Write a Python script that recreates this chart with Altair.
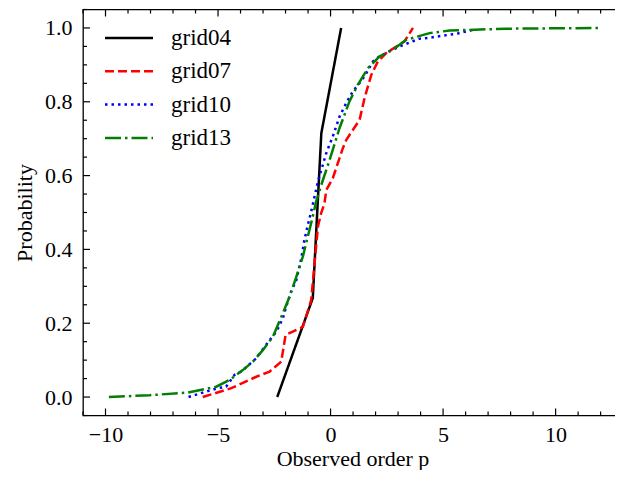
import altair as alt
import pandas as pd

series_names = ["grid04", "grid07", "grid10", "grid13"]
series_colors = ["#000000", "#ff0000", "#0000ff", "#008000"]
series_dashes = [[1, 0], [9, 4], [2.5, 4], [16, 4, 2.5, 4]]

grid04_p = [-2.37, -0.79, -0.41, 0.47]
grid04_prob = [0.0, 0.268, 0.715, 1.0]

grid07_p = [-5.68, -4.41, -3.30, -2.71, -2.19, -2.0, -1.23, -0.86, -0.71, -0.56,
            -0.41, -0.27, -0.19, 0.10, 0.55, 0.70, 1.29, 1.51, 1.81, 2.10,
            2.47, 3.29, 3.66]
grid07_prob = [0.0, 0.024, 0.055, 0.069, 0.096, 0.168, 0.19, 0.263, 0.363, 0.462,
               0.50, 0.525, 0.561, 0.593, 0.675, 0.697, 0.751, 0.81, 0.873, 0.909,
               0.932, 0.964, 1.0]

grid10_p = [-6.31, -5.68, -5.01, -4.64, -4.27, -3.97, -3.67, -3.30, -2.93, -2.64,
            -2.41, -2.12, -1.97, -1.75, -1.52, -1.30, -1.16, -1.01, -0.86, -0.56,
            -0.19, 0.10, 0.40, 0.70, 0.99, 1.29, 1.51, 1.88, 2.18, 2.62,
            3.07, 3.66, 3.96, 4.32, 5.66, 6.32]
grid10_prob = [0.0, 0.012, 0.024, 0.028, 0.06, 0.069, 0.085, 0.105, 0.136, 0.159,
               0.177, 0.213, 0.245, 0.286, 0.317, 0.376, 0.426, 0.466, 0.503, 0.584,
               0.661, 0.706, 0.76, 0.797, 0.828, 0.851, 0.869, 0.909, 0.923, 0.937,
               0.95, 0.964, 0.971, 0.973, 0.985, 0.995]

grid13_p = [-9.85, -8.04, -6.34, -5.08, -4.49, -3.90, -3.45, -3.01, -2.56, -2.12,
            -1.82, -1.52, -1.23, -1.01, -0.79, -0.64, -0.41, -0.04, 0.40, 0.84,
            1.21, 1.66, 2.18, 2.77, 3.36, 4.4, 5.29, 7.81, 11.96]
grid13_prob = [0.0, 0.005, 0.012, 0.028, 0.046, 0.073, 0.096, 0.127, 0.164, 0.227,
               0.272, 0.326, 0.381, 0.435, 0.489, 0.53, 0.575, 0.643, 0.729, 0.801,
               0.846, 0.891, 0.923, 0.941, 0.968, 0.986, 0.993, 0.998, 1.0]

x_major = [-10, -5, 0, 5, 10]
x_minor = [v for v in range(-11, 13) if v % 5 != 0]
y_major = [0.0, 0.2, 0.4, 0.6, 0.8, 1.0]
y_minor = [round(-0.05 + 0.05 * k, 2) for k in range(23)]
y_minor = [v for v in y_minor if round(v * 100) % 20 != 0]

series_p = [grid04_p, grid07_p, grid10_p, grid13_p]
series_prob = [grid04_prob, grid07_prob, grid10_prob, grid13_prob]

W, H = 539, 406
FONT = "Liberation Serif"
FS = 22

xs = alt.Scale(domain=[-11.0, 12.95], nice=False, zero=False)
ys = alt.Scale(domain=[-0.05, 1.05], nice=False, zero=False)

x_axis = alt.Axis(values=x_major, format="d", ticks=False, domain=False, grid=False,
                  labelFont=FONT, labelFontSize=FS, labelColor="black", labelPadding=9,
                  labelFlush=False, labelOverlap=False,
                  title="Observed order p", titleFont=FONT, titleFontSize=FS,
                  titleFontWeight="normal", titleColor="black", titlePadding=3)
y_axis = alt.Axis(values=y_major, format=".1f", ticks=False, domain=False, grid=False,
                  labelFont=FONT, labelFontSize=FS, labelColor="black", labelPadding=11,
                  labelFlush=False, labelOverlap=False,
                  title="Probability", titleFont=FONT, titleFontSize=FS,
                  titleFontWeight="normal", titleColor="black", titlePadding=8)

X = alt.X("p:Q", scale=xs, axis=x_axis)
Y = alt.Y("prob:Q", scale=ys, axis=y_axis)

layers = []
for name, c, d, ps, pr in zip(series_names, series_colors, series_dashes, series_p, series_prob):
    df = pd.DataFrame({"p": ps, "prob": pr, "i": list(range(len(ps)))})
    layers.append(
        alt.Chart(df).mark_line(color=c, strokeDash=d, strokeWidth=2.5, clip=True)
        .encode(x=X, y=Y, order="i:Q")
    )

tick_color = "black"
TW = 1.2
MAJ, MIN = 7, 4
xmaj = pd.DataFrame({"p": x_major})
xmin = pd.DataFrame({"p": x_minor})
ymaj = pd.DataFrame({"prob": y_major})
ymin = pd.DataFrame({"prob": y_minor})

for data, L in [(xmaj, MAJ), (xmin, MIN)]:
    layers.append(alt.Chart(data).mark_rule(color=tick_color, strokeWidth=TW)
                  .encode(x=X, y=alt.value(H), y2=alt.value(H - L)))
    layers.append(alt.Chart(data).mark_rule(color=tick_color, strokeWidth=TW)
                  .encode(x=X, y=alt.value(0), y2=alt.value(L)))
for data, L in [(ymaj, MAJ), (ymin, MIN)]:
    layers.append(alt.Chart(data).mark_rule(color=tick_color, strokeWidth=TW)
                  .encode(y=Y, x=alt.value(0), x2=alt.value(L)))
    layers.append(alt.Chart(data).mark_rule(color=tick_color, strokeWidth=TW)
                  .encode(y=Y, x=alt.value(W - L), x2=alt.value(W)))

# legend (upper left, no frame)
for k, (name, c, d) in enumerate(zip(series_names, series_colors, series_dashes)):
    ry = 28.5 + 33.3 * k
    ldf = pd.DataFrame({"name": [name]})
    layers.append(alt.Chart(ldf).mark_rule(color=c, strokeDash=d, strokeWidth=2.5)
                  .encode(x=alt.value(22), x2=alt.value(70), y=alt.value(ry)))
    layers.append(alt.Chart(ldf).mark_text(align="left", baseline="middle", font=FONT,
                                           fontSize=FS + 1, color="black")
                  .encode(x=alt.value(88), y=alt.value(ry), text="name:N"))

chart = alt.layer(*layers).properties(
    width=W, height=H,
    autosize=alt.AutoSizeParams(type="none"),
    padding={"left": 75, "top": 1.5, "right": -7, "bottom": 54.5},
    background="white",
).configure_view(stroke="black", strokeWidth=1.3)

chart.save("out.html", embed_options={"renderer": "svg", "actions": False})
